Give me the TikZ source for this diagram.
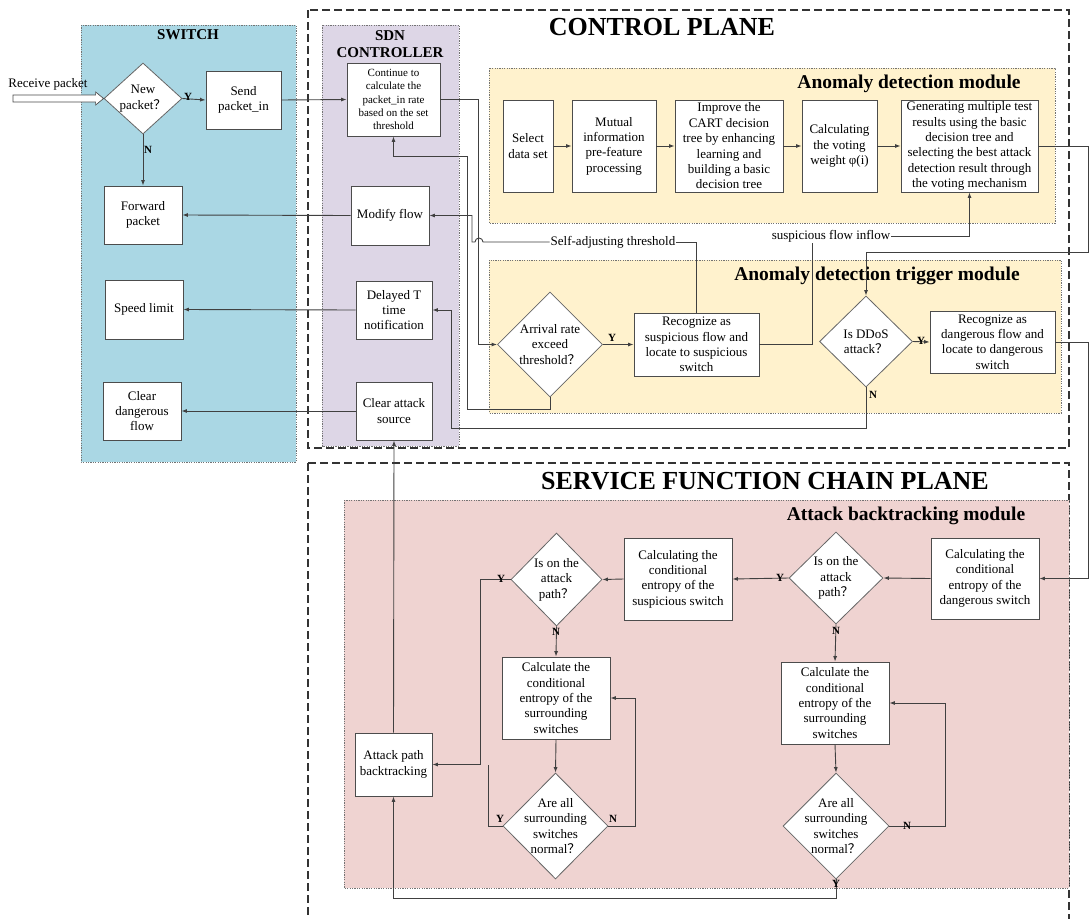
\documentclass[tikz,border=0pt]{standalone}
\usepackage{fontspec}
\setmainfont{Liberation Serif}
\newfontfamily\cjkf{Noto Sans CJK SC}
\usetikzlibrary{shapes.geometric,arrows.meta,calc}
\newcommand{\fq}{{\cjkf ？}}
\definecolor{swblue}{RGB}{170,215,228}
\definecolor{sdnpurple}{RGB}{221,214,230}
\definecolor{cream}{RGB}{255,242,205}
\definecolor{pinkbg}{RGB}{239,211,209}
\tikzset{
  box/.style={draw=black!70, line width=0.8pt, fill=white, align=center, inner sep=1pt, font=\fontsize{13}{15.4}\selectfont},
  smallbox/.style={box, font=\fontsize{11}{13.3}\selectfont},
  dia/.style={diamond, draw=black!60, line width=0.8pt, fill=white, inner sep=0pt, aspect=1},
  dtext/.style={align=center, font=\fontsize{13}{15.4}\selectfont},
  conn/.style={draw=black!75, line width=0.9pt},
  arr/.style={conn, -{Latex[length=5.5pt,width=4pt]}},
  yn/.style={font=\bfseries\fontsize{11}{12}\selectfont, inner sep=0pt},
  panel/.style={draw=black!55, line width=0.8pt, dash pattern=on 1.2pt off 1.2pt},
  plane/.style={draw=black!80, line width=1.1pt, dash pattern=on 8pt off 4pt},
  bigtitle/.style={font=\bfseries\fontsize{26}{30}\selectfont, inner sep=0pt},
  modtitle/.style={font=\bfseries\fontsize{19.5}{22}\selectfont, inner sep=0pt},
  coltitle/.style={font=\bfseries\fontsize{15}{17}\selectfont, align=center, inner sep=0pt},
  plain/.style={font=\fontsize{13}{15.4}\selectfont, inner sep=1pt}
}
\begin{document}
\begin{tikzpicture}[x=1pt,y=-1pt]
\useasboundingbox (0,0) rectangle (1089,918);
\fill[white] (0,0) rectangle (1089,918);

% ---------- panels ----------
\filldraw[panel, fill=swblue] (81,25) rectangle (296,462);
\draw[plane] (308,10) rectangle (1069,448);
\draw[plane] (308,463) -- (308,935) (308,463) -- (1069,463) -- (1069,935);
\filldraw[panel, fill=sdnpurple] (322,25) rectangle (459,446);
\filldraw[panel, fill=cream] (489,68) rectangle (1055,223);
\filldraw[panel, fill=cream] (489,260) rectangle (1061,413);
\filldraw[panel, fill=pinkbg] (344,500) rectangle (1069,888);

% ---------- titles ----------
\node[coltitle] (tsw) at (188,35) {SWITCH};
\node[coltitle] (tsdn) at (390,44) {SDN\\CONTROLLER};
\node[bigtitle] (tcp) at (662,27) {CONTROL PLANE};
\node[modtitle] (tad) at (909,84) {Anomaly detection module};
\node[modtitle] (ttr) at (877,276) {Anomaly detection trigger module};
\node[bigtitle] (tsfc) at (765,481) {SERVICE FUNCTION CHAIN PLANE};
\node[modtitle] (tab) at (906,516) {Attack backtracking module};

% ---------- switch column ----------
\node[dia, minimum width=78, minimum height=71, label={[dtext]center:{New\\packet\fq}}] (newp) at (143,98.5) {};
\node[box, minimum width=75, minimum height=58] (sendp) at (243.5,100) {Send\\packet\_in};
\node[box, minimum width=78, minimum height=58] (fwd) at (143,215) {Forward\\packet};
\node[box, minimum width=78, minimum height=59] (spd) at (144,309.5) {Speed limit};
\node[box, minimum width=78, minimum height=58] (cdf) at (142,411) {Clear\\dangerous\\flow};
\node[plain] (rpl) at (48,84) {Receive packet};
\coordinate (rp) at (13,98.5);

% ---------- SDN column ----------
\node[smallbox, minimum width=93, minimum height=73] (cont) at (393.5,99.5) {Continue to\\calculate the\\packet\_in rate\\based on the set\\threshold};
\node[box, minimum width=78, minimum height=59] (modf) at (390,215.5) {Modify flow};
\node[box, minimum width=76, minimum height=58] (delay) at (394,310) {Delayed T\\time\\notification};
\node[box, minimum width=76, minimum height=58] (cas) at (394,411) {Clear attack\\source};

% ---------- anomaly detection module ----------
\node[box, minimum width=50, minimum height=92] (sel) at (528,146) {Select\\data set};
\node[box, minimum width=84, minimum height=92] (mut) at (614,146) {Mutual\\information\\pre-feature\\processing};
\node[box, minimum width=108, minimum height=92] (cart) at (729,146) {Improve the\\CART decision\\tree by enhancing\\learning and\\building a basic\\decision tree};
\node[box, minimum width=75, minimum height=92] (vote) at (839.5,146) {Calculating\\the voting\\weight φ(i)};
\node[box, minimum width=137, minimum height=92] (gen) at (969.5,146) {Generating multiple test\\results using the basic\\decision tree and\\selecting the best attack\\detection result through\\the voting mechanism};

% ---------- trigger module ----------
\node[dia, minimum width=105, minimum height=105, label={[dtext]center:{Arrival rate\\exceed\\threshold\fq}}] (arrv) at (550,344.5) {};
\node[box, minimum width=125, minimum height=63] (recs) at (696.5,344.5) {Recognize as\\suspicious flow and\\locate to suspicious\\switch};
\node[dia, minimum width=93, minimum height=91, label={[dtext]center:{Is DDoS\\attack\fq}}] (ddos) at (866,341.5) {};
\node[box, minimum width=125, minimum height=62] (recd) at (992.5,342) {Recognize as\\dangerous flow and\\locate to dangerous\\switch};
\node[plain] (sat) at (613,242) {Self-adjusting threshold};
\node[plain] (sfi) at (831,236) {suspicious flow inflow};

% ---------- SFC plane ----------
\node[box, minimum width=108, minimum height=81] (calcd) at (985,578.5) {Calculating the\\conditional\\entropy of the\\dangerous switch};
\node[dia, minimum width=94, minimum height=92, label={[dtext]center:{Is on the\\attack\\path\fq}}] (dR) at (836,578) {};
\node[box, minimum width=108, minimum height=82] (calcs) at (678,579) {Calculating the\\conditional\\entropy of the\\suspicious switch};
\node[dia, minimum width=91, minimum height=93, label={[dtext]center:{Is on the\\attack\\path\fq}}] (dL) at (556.5,579.5) {};
\node[box, minimum width=108, minimum height=82] (surrL) at (556,698) {Calculate the\\conditional\\entropy of the\\surrounding\\switches};
\node[dia, minimum width=105, minimum height=106, label={[dtext]center:{Are all\\surrounding\\switches\\normal\fq}}] (aL) at (555.5,826) {};
\node[box, minimum width=108, minimum height=82] (surrR) at (835,703) {Calculate the\\conditional\\entropy of the\\surrounding\\switches};
\node[dia, minimum width=106, minimum height=106, label={[dtext]center:{Are all\\surrounding\\switches\\normal\fq}}] (aR) at (836,826) {};
\node[box, minimum width=77, minimum height=63] (apb) at (393.5,764.5) {Attack path\\backtracking};

% ---------- connectors ----------
% receive packet (hollow arrow)
\draw[draw=black!70, line width=0.7pt, fill=white] ($(rp)+(0,-3.5)$) -- ($(newp.west)+(-8,-3.5)$) -- ($(newp.west)+(-8,-6.5)$) -- (newp.west) -- ($(newp.west)+(-8,6.5)$) -- ($(newp.west)+(-8,3.5)$) -- ($(rp)+(0,3.5)$) -- cycle;
\draw[arr] (newp.east) -- (sendp.west);
\draw[arr] (newp.south) -- (fwd.north);
\draw[arr] (sendp.east) -- (cont.west);
\draw[arr] (modf.west) -- (fwd.east);
\draw[arr] (delay.west) -- (spd.east);
\draw[arr] (cas.west) -- (cdf.east);

% anomaly detection chain
\draw[arr] (sel.east) -- (mut.west);
\draw[arr] (mut.east) -- (cart.west);
\draw[arr] (cart.east) -- (vote.west);
\draw[arr] (vote.east) -- (gen.west);
\draw[arr] (gen.east) -- (1088,146) -- (1088,252) -| (ddos.north);

% continue -> arrival
\draw[arr] (cont.east) -| ($(arrv.west)+(-19,0)$) -- (arrv.west);
% arrival N loop back to continue
\draw[arr] (arrv.south) -- (550,409) -- (467,409) -- (467,156) -| (cont.south);
% arrival Y
\draw[arr] (arrv.east) -- (recs.west);
% self-adjusting threshold
\draw[conn] (recs.north) |- (sat.east);
\draw[arr] (sat.west) -- (483,242) arc[start angle=0, end angle=180, radius=4pt] -- (472,242) |- (modf.east);
% suspicious flow inflow
\draw[conn] (recs.east) -| ([xshift=-19pt]sfi.south);
\draw[arr] (sfi.east) -| (gen.south);
% DDoS
\draw[arr] (ddos.east) -- (recd.west);
\draw[arr] (ddos.south) |- (451,428) -- (451,310) -- (delay.east);
\draw[arr] (recd.east) -- (1088,342) |- (calcd.east);

% SFC
\draw[arr] (calcd.west) -- (dR.east);
\draw[arr] (dR.west) -- (calcs.east);
\draw[arr] (calcs.west) -- (dL.east);
\draw[arr] (dL.west) -- (480,579.5) |- (apb.east);
\draw[conn] (aL.west) -- (488,826) -- (488,764.5);
\draw[arr] (dL.south) -- (surrL.north);
\draw[arr] (surrL.south) -- (aL.north);
\draw[arr] (aL.east) -- (635,826) |- (surrL.east);
\draw[arr] (dR.south) -- (surrR.north);
\draw[arr] (surrR.south) -- (aR.north);
\draw[arr] (aR.east) -- (945,826) |- (surrR.east);
\draw[arr] (aR.south) -- (836,898) -| (apb.south);
\draw[arr] (apb.north) -- (cas.south);

% ---------- Y / N labels ----------
\node[yn] (y1) at (188,97) {Y};
\node[yn] (n1) at (148,150) {N};
\node[yn] (y2) at (612,338) {Y};
\node[yn] (y3) at (921,341) {Y};
\node[yn] (n3) at (873,395) {N};
\node[yn] (y4) at (780,578) {Y};
\node[yn] (n4) at (836,631) {N};
\node[yn] (y5) at (501,579) {Y};
\node[yn] (n5) at (556,632) {N};
\node[yn] (y6) at (500,819) {Y};
\node[yn] (n6) at (613,819) {N};
\node[yn] (n7) at (907,826) {N};
\node[yn] (y7) at (836,884) {Y};
\end{tikzpicture}
\end{document}
